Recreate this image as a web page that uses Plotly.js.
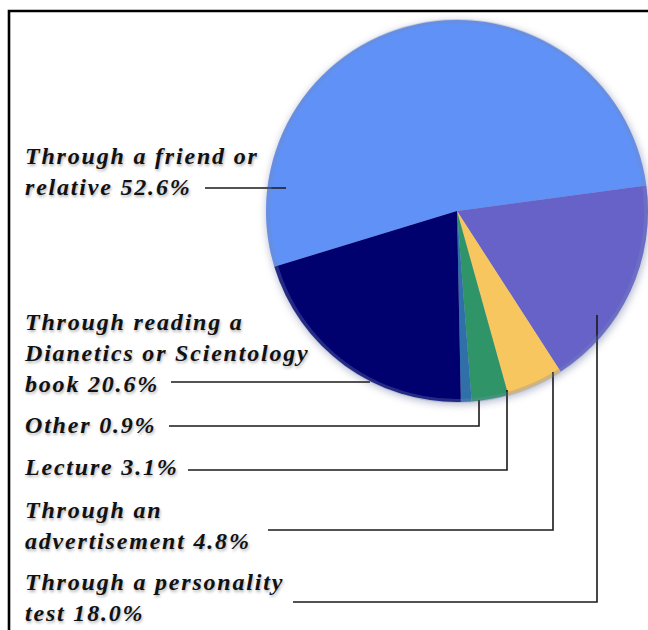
<!DOCTYPE html>
<html>
<head>
<meta charset="utf-8">
<script src="https://cdn.plot.ly/plotly-3.0.1.min.js"></script>
<style>
html,body{margin:0;padding:0;background:#fff;}
#chart{width:648px;height:630px;}
.pielayer{filter:drop-shadow(1px 2px 4px rgba(70,80,130,.45));}
.annotation-text{text-shadow:1px 2px 3px rgba(0,0,0,.3);}
</style>
</head>
<body>
<div id="chart"></div>
<script>
const categories = ["Through a friend or relative","Through a personality test","Through an advertisement","Lecture","Other","Through reading a Dianetics or Scientology book"];
const percentages = [52.6,18.0,4.8,3.1,0.9,20.6];
const sliceColors = ["#5F91F6","#6662C8","#F7C65E","#2F9568","#2F70A8","#00006E"];
const calloutTexts = [
  "Through a friend or<br>relative 52.6%",
  "Through reading a<br>Dianetics or Scientology<br>book 20.6%",
  "Other 0.9%",
  "Lecture 3.1%",
  "Through an<br>advertisement 4.8%",
  "Through a personality<br>test 18.0%"
];

const W = 648, H = 630;
const px = x => x / W, py = y => 1 - y / H;
const calloutAnchors = [[23,172],[23,353],[23,425],[23,467],[23,525],[23,597]];
const leaders = [
  [[205,188],[286,188]],
  [[171,382],[370,382]],
  [[169,426],[479,426],[479,400]],
  [[188,470],[507,470],[507,390]],
  [[268,530],[553,530],[553,372]],
  [[293,602],[597,602],[597,315]]
];
const toPath = pts => pts.map((p,i)=>(i?"L":"M")+px(p[0])+","+py(p[1])).join(" ");

const shapes = leaders.map(pts => ({
  type:"path", xref:"paper", yref:"paper", path:toPath(pts),
  line:{color:"#1a1a1a",width:1.6}
}));
// Picture frame (left and top edges)
shapes.push({type:"path",xref:"paper",yref:"paper",
  path:toPath([[9,630],[9,11],[648,11]]),line:{color:"#000",width:2.6}});
// Bevel along the pie rim
shapes.push({type:"circle",xref:"paper",yref:"paper",
  x0:px(268),x1:px(646),y0:py(21),y1:py(401),
  line:{color:"rgba(120,140,185,.3)",width:4}});

Plotly.newPlot("chart",[{
  type:"pie",
  labels:categories,
  values:percentages,
  sort:false,
  direction:"clockwise",
  rotation:253,
  textinfo:"none",
  hoverinfo:"label+percent",
  marker:{colors:sliceColors,line:{width:0}},
  domain:{x:[px(266),1],y:[py(403),py(19)]},
  showlegend:false
}],{
  width:W,height:H,
  margin:{l:0,r:0,t:0,b:0},
  paper_bgcolor:"#fff",
  showlegend:false,
  shapes:shapes,
  annotations:calloutTexts.map((t,i)=>({
    xref:"paper",yref:"paper",
    x:px(calloutAnchors[i][0]),y:py(calloutAnchors[i][1]),
    xanchor:"left",yanchor:"middle",align:"left",
    showarrow:false,text:t,
    font:{family:"Liberation Serif",size:24,color:"#111"}
  }))
},{displayModeBar:false,staticPlot:true}).then(()=>{
  document.querySelectorAll(".annotation-text").forEach(el=>{
    el.style.fontWeight="bold";el.style.fontStyle="italic";el.style.letterSpacing="1.8px";
  });
});
</script>
</body>
</html>
